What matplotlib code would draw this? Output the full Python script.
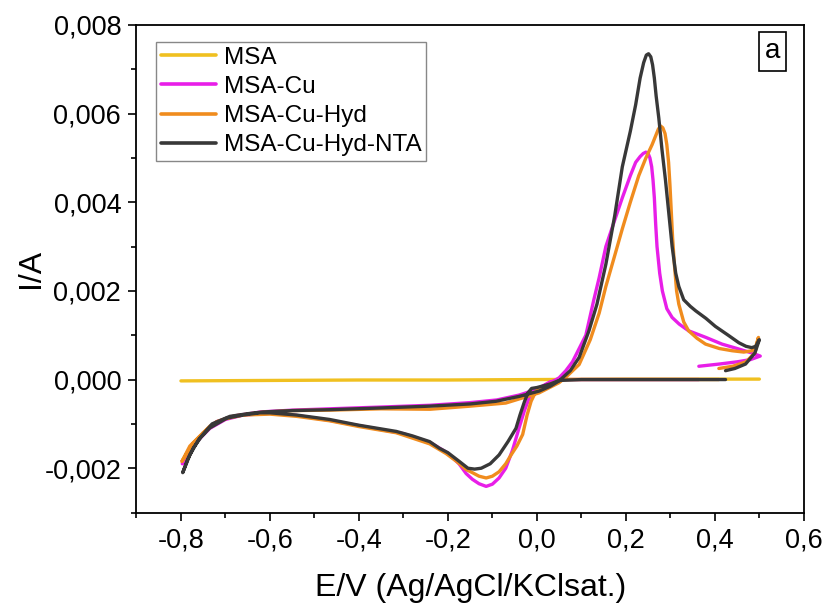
import numpy as np
import matplotlib
matplotlib.use('Agg')
import matplotlib.pyplot as plt
from matplotlib.ticker import MultipleLocator, FuncFormatter

plt.rcParams['font.family'] = ['Liberation Sans', 'DejaVu Sans']

# MSA (blank electrolyte)
msa_E = [-0.80, -0.60, -0.40, -0.20, 0.00, 0.20, 0.40, 0.50]
msa_I = [-0.00003, -0.00002, -0.00001, -0.00001, 0.0, 0.00001, 0.00001, 0.00001]

# MSA-Cu
cu_E = [0.364, 0.25, 0.15, 0.06, 0.03, 0.005, -0.01, -0.017, -0.028, -0.04, -0.055, -0.07,
        -0.085, -0.10, -0.114, -0.13, -0.145, -0.159, -0.175, -0.20, -0.24, -0.30, -0.40,
        -0.466, -0.54, -0.60, -0.66, -0.70, -0.735, -0.772, -0.797,
        -0.78, -0.75, -0.72, -0.68, -0.62, -0.55, -0.466, -0.35, -0.24, -0.15, -0.09, -0.04,
        0.0, 0.03, 0.05, 0.065, 0.08, 0.095, 0.11, 0.128, 0.14, 0.155, 0.175, 0.192, 0.21,
        0.222, 0.232, 0.239, 0.245, 0.250, 0.254, 0.258, 0.261, 0.264, 0.267, 0.27, 0.276, 0.282, 0.292,
        0.304, 0.32, 0.341, 0.38, 0.416, 0.45, 0.483, 0.502,
        0.48, 0.45, 0.41, 0.364]
cu_I = [0.0, 0.0, 0.0, 0.0, -0.00005, -0.00019, -0.0003, -0.00041, -0.0007, -0.00109, -0.0016, -0.0020,
        -0.00222, -0.00236, -0.00241, -0.00235, -0.00225, -0.00212, -0.0019, -0.00166, -0.00142, -0.00122, -0.00104,
        -0.00092, -0.00081, -0.00076, -0.0008, -0.0009, -0.0011, -0.00148, -0.0019,
        -0.0016, -0.0012, -0.00095, -0.00082, -0.00073, -0.00069, -0.00066, -0.00062, -0.00058, -0.00052, -0.00046, -0.00035,
        -0.00022, -0.00008, 0.00004, 0.0002, 0.0004, 0.0007, 0.0010, 0.0018, 0.0023, 0.0030, 0.0036, 0.0041, 0.0046,
        0.0049, 0.00503, 0.00510, 0.00513, 0.00510, 0.00500, 0.00480, 0.0045, 0.0041, 0.0035, 0.0030, 0.0024, 0.0020, 0.0016,
        0.0014, 0.00125, 0.0011, 0.00095, 0.0008, 0.0007, 0.0006, 0.00053,
        0.00045, 0.0004, 0.00035, 0.0003]

# MSA-Cu-Hyd
hyd_E = [0.409, 0.30, 0.20, 0.06, 0.03, -0.002, -0.013, -0.022, -0.032, -0.045, -0.058, -0.07,
         -0.085, -0.10, -0.114, -0.13, -0.145, -0.159, -0.18, -0.204, -0.241, -0.316, -0.40,
         -0.466, -0.54, -0.60, -0.66, -0.70, -0.735, -0.772, -0.798,
         -0.78, -0.75, -0.72, -0.68, -0.62, -0.55, -0.466, -0.35, -0.24, -0.15, -0.07, 0.005,
         0.05, 0.07, 0.095, 0.12, 0.14, 0.155, 0.175, 0.192, 0.21, 0.229, 0.245, 0.259, 0.267,
         0.273, 0.278, 0.283, 0.288, 0.292, 0.296, 0.299, 0.302, 0.305, 0.309, 0.314, 0.319, 0.33, 0.341, 0.36,
         0.379, 0.41, 0.439, 0.465, 0.483, 0.492, 0.498,
         0.49, 0.47, 0.44, 0.409]
hyd_I = [0.0, 0.0, 0.0, 0.0, -0.0001, -0.00026, -0.00049, -0.0008, -0.00124, -0.0015, -0.0017, -0.0019,
         -0.00208, -0.00218, -0.00222, -0.00218, -0.0021, -0.00203, -0.00185, -0.00167, -0.00145, -0.0012, -0.00106,
         -0.00093, -0.00083, -0.00078, -0.0008, -0.00088, -0.00105, -0.00143, -0.00185,
         -0.0015, -0.0012, -0.00095, -0.00082, -0.00074, -0.0007, -0.00069, -0.00066, -0.00067, -0.0006, -0.00053, -0.0003,
         -0.00007, 0.0001, 0.00034, 0.0009, 0.0015, 0.0021, 0.0028, 0.0034, 0.0040, 0.0046, 0.0050, 0.0053, 0.0055,
         0.00565, 0.00572, 0.00568, 0.00555, 0.0053, 0.0049, 0.0044, 0.0038, 0.0032, 0.0026, 0.0020, 0.0017, 0.0013, 0.0011, 0.00093,
         0.0008, 0.0007, 0.00065, 0.00062, 0.00065, 0.00075, 0.00095,
         0.0006, 0.0004, 0.0003, 0.00025]

# MSA-Cu-Hyd-NTA
nta_E = [0.424, 0.30, 0.20, 0.10, 0.05, 0.03, 0.0, -0.012, -0.02, -0.028, -0.038, -0.047, -0.065,
         -0.085, -0.105, -0.125, -0.14, -0.155, -0.174, -0.20, -0.219, -0.241, -0.28, -0.316,
         -0.40, -0.466, -0.54, -0.60, -0.623, -0.66, -0.697, -0.735, -0.755, -0.772, -0.785, -0.796,
         -0.78, -0.76, -0.73, -0.69, -0.65, -0.615, -0.55, -0.466, -0.35, -0.241, -0.15, -0.092,
         -0.04, 0.005, 0.03, 0.05, 0.075, 0.095, 0.117, 0.135, 0.155, 0.175, 0.192, 0.21, 0.222,
         0.232, 0.240, 0.246, 0.251, 0.256, 0.260, 0.264, 0.268, 0.274, 0.281, 0.289, 0.297, 0.304, 0.312, 0.319,
         0.33, 0.345, 0.357, 0.38, 0.401, 0.43, 0.454, 0.47, 0.483, 0.492, 0.498, 0.50,
         0.49, 0.469, 0.445, 0.424]
nta_I = [0.0, 0.0, 0.0, 0.0, -0.00002, -0.0001, -0.00018, -0.0002, -0.0003, -0.0005, -0.0008, -0.0011, -0.0014,
         -0.0017, -0.0019, -0.0020, -0.00202, -0.0020, -0.00185, -0.00165, -0.00155, -0.0014, -0.00127, -0.00117,
         -0.00103, -0.0009, -0.0008, -0.00075, -0.00075, -0.0008, -0.00087, -0.00109, -0.0013, -0.00154, -0.0018, -0.0021,
         -0.0017, -0.00135, -0.0010, -0.00083, -0.00077, -0.00073, -0.0007, -0.00068, -0.00064, -0.0006, -0.00055, -0.00049,
         -0.00038, -0.00026, -0.00015, -0.00003, 0.0002, 0.0005, 0.0011, 0.0017, 0.0026, 0.0037, 0.0048, 0.0056, 0.0062,
         0.0068, 0.00715, 0.00732, 0.00735, 0.00728, 0.0071, 0.0068, 0.0064, 0.0059, 0.0052, 0.0045, 0.0037, 0.0030, 0.0024, 0.0021,
         0.0018, 0.00165, 0.00155, 0.00138, 0.0012, 0.0010, 0.00083, 0.00075, 0.00072, 0.00075, 0.00087, 0.0009,
         0.0006, 0.00035, 0.00025, 0.0002]

labels = ['MSA', 'MSA-Cu', 'MSA-Cu-Hyd', 'MSA-Cu-Hyd-NTA']
colors = ['#f0c020', '#e81ee8', '#f08c1e', '#383838']


def fmt(decimals):
    def f(v, pos):
        if abs(v) < 1e-12:
            v = 0.0
        return ('%.*f' % (decimals, v)).replace('.', ',')
    return FuncFormatter(f)


fig = plt.figure(figsize=(8.27, 6.08), dpi=100)
ax = fig.add_axes([0.165, 0.157, 0.807, 0.802])

series = [(msa_E, msa_I), (cu_E, cu_I), (hyd_E, hyd_I), (nta_E, nta_I)]
for (E, I), lab, c in zip(series, labels, colors):
    ax.plot(E, I, color=c, lw=2.4, label=lab, solid_joinstyle='round', solid_capstyle='round')

ax.set_xlim(-0.9, 0.6)
ax.set_ylim(-0.003, 0.008)
ax.xaxis.set_major_locator(MultipleLocator(0.2))
ax.xaxis.set_minor_locator(MultipleLocator(0.1))
ax.yaxis.set_major_locator(MultipleLocator(0.002))
ax.yaxis.set_minor_locator(MultipleLocator(0.001))
ax.xaxis.set_major_formatter(fmt(1))
ax.yaxis.set_major_formatter(fmt(3))
ax.tick_params(which='both', direction='out', top=False, right=False, width=1.2, labelsize=19.5, pad=5)
ax.tick_params(which='major', length=6)
ax.tick_params(which='minor', length=3.5)
for s in ax.spines.values():
    s.set_linewidth(1.3)

ax.set_xlabel('E/V (Ag/AgCl/KClsat.)', fontsize=23, labelpad=14)
ax.set_ylabel('I/A', fontsize=23, labelpad=-1)

leg = ax.legend(loc='upper left', bbox_to_anchor=(0.0288, 0.9657), borderaxespad=0,
                fontsize=17.5, handlelength=2.3, handletextpad=0.3, labelspacing=0.3,
                borderpad=0.2, fancybox=False, framealpha=1, edgecolor='#888888')
leg.get_frame().set_linewidth(1.0)
for h in leg.get_lines():
    h.set_linewidth(2.6)

ax.text(0.953, 0.9456, 'a', transform=ax.transAxes, fontsize=20, ha='center', va='center',
        bbox=dict(boxstyle='square,pad=0.22', facecolor='white', edgecolor='black', lw=1.2))

fig.savefig('out.png', dpi=100)
